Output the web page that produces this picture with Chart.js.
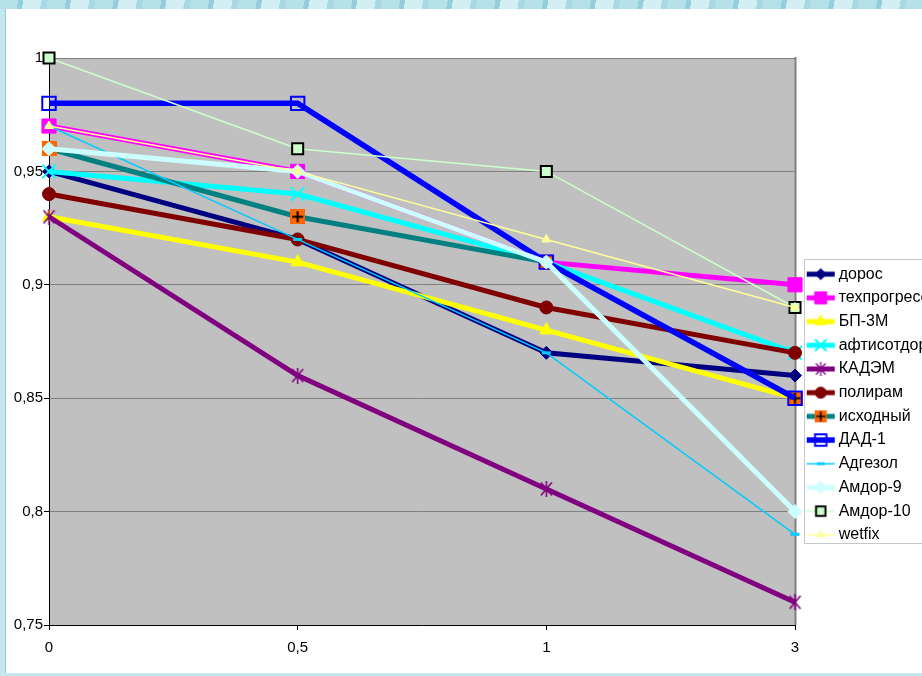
<!DOCTYPE html>
<html lang="ru">
<head>
<meta charset="utf-8">
<title>Сцепление</title>
<script src="https://cdn.jsdelivr.net/npm/chart.js@4.4.1/dist/chart.umd.min.js"></script>
<style>
  html, body { margin: 0; padding: 0; width: 922px; height: 676px; overflow: hidden; }
  body { position: relative; background: #c4e8ee; }
  .band {
    position: absolute; left: 0; top: 0; width: 922px; height: 9px;
    background: repeating-linear-gradient(100deg, #b7e1e9 0 18px, #93cfdb 18px 23px, #d3eff3 23px 41px, #a6d9e3 41px 47px);
  }
  .sheet { position: absolute; left: 5px; top: 9px; right: 0; bottom: 3px; background: #fff; border-left: 1px solid #8fcfd9; }
  #chart { position: absolute; left: 0; top: 0; }
</style>
</head>
<body>
<div class="band"></div>
<div class="sheet"></div>
<canvas id="chart" width="960" height="751"></canvas>
<script>
// ==== данные ====
const categories  = ['0', '0,5', '1', '3'];
const yTickLabels = ['0,75', '0,8', '0,85', '0,9', '0,95', '1'];

const seriesNames = ['дорос', 'техпрогресс', 'БП-3М', 'афтисотдор', 'КАДЭМ', 'полирам',
                     'исходный', 'ДАД-1', 'Адгезол', 'Амдор-9', 'Амдор-10', 'wetfix'];

const doros       = [0.95, 0.92, 0.87, 0.86];
const tehprogress = [0.97, 0.95, 0.91, 0.90];
const bp3m        = [0.93, 0.91, 0.88, 0.85];
const aftisotdor  = [0.95, 0.94, 0.91, 0.87];
const kadem       = [0.93, 0.86, 0.81, 0.76];
const poliram     = [0.94, 0.92, 0.89, 0.87];
const ishodny     = [0.96, 0.93, 0.91, 0.85];
const dad1        = [0.98, 0.98, 0.91, 0.85];
const adgezol     = [0.97, 0.92, 0.87, 0.79];
const amdor9      = [0.96, 0.95, 0.91, 0.80];
const amdor10     = [1.00, 0.96, 0.95, 0.89];
const wetfix      = [0.97, 0.95, 0.92, 0.89];

const seriesValues = [doros, tehprogress, bp3m, aftisotdor, kadem, poliram,
                      ishodny, dad1, adgezol, amdor9, amdor10, wetfix];

// ==== маркеры, которых нет в Chart.js ====
function starImg(color){
  const c = document.createElement('canvas');
  c.width = 13; c.height = 16;
  const g = c.getContext('2d');
  g.strokeStyle = color; g.lineWidth = 1.6;
  g.beginPath();
  g.moveTo(1, 1.5);  g.lineTo(12, 14.5);
  g.moveTo(12, 1.5); g.lineTo(1, 14.5);
  g.moveTo(6.5, 0);  g.lineTo(6.5, 16);
  g.stroke();
  return c;
}
function plusImg(){
  const c = document.createElement('canvas');
  c.width = 15; c.height = 15;
  const g = c.getContext('2d');
  g.fillStyle = '#FF6600'; g.fillRect(0, 0, 15, 15);
  g.strokeStyle = '#000'; g.lineWidth = 2;
  g.beginPath();
  g.moveTo(7.5, 2); g.lineTo(7.5, 13);
  g.moveTo(2, 7.5); g.lineTo(13, 7.5);
  g.stroke();
  return c;
}

// ==== стиль серий ====
const looks = [
  { color: '#000080', width: 5,   marker: 'rectRot',  r: 6.5, fill: '#000080', border: '#000080', bw: 1 },
  { color: '#FF00FF', width: 5,   marker: 'rect',     r: 10,  fill: '#FF00FF', border: '#FF00FF', bw: 1 },
  { color: '#FFFF00', width: 5,   marker: 'triangle', r: 7.5, fill: '#FFFF00', border: '#FFFF00', bw: 1 },
  { color: '#00FFFF', width: 5,   marker: 'crossRot', r: 9.5, fill: '#00FFFF', border: '#00FFFF', bw: 2 },
  { color: '#800080', width: 5,   marker: starImg('#800080'), r: 8, fill: '#800080', border: '#800080', bw: 1 },
  { color: '#800000', width: 5,   marker: 'circle',   r: 6.5, fill: '#800000', border: '#800000', bw: 1 },
  { color: '#008080', width: 5,   marker: plusImg(),  r: 8,   fill: '#FF6600', border: '#FF6600', bw: 1 },
  { color: '#0000FF', width: 5.5, marker: 'rect',     r: 9.5, fill: 'rgba(0,0,0,0)', border: '#0000FF', bw: 2 },
  { color: '#00CCFF', width: 1.5, marker: 'line',     r: 4.5, fill: '#00CCFF', border: '#00CCFF', bw: 3 },
  { color: '#CCFFFF', width: 5,   marker: 'rectRot',  r: 7,   fill: '#CCFFFF', border: '#CCFFFF', bw: 1 },
  { color: '#CCFFCC', width: 1.5, marker: 'rect',     r: 7.8, fill: '#CCFFCC', border: '#000000', bw: 2 },
  { color: '#FFFF99', width: 1.5, marker: 'triangle', r: 5,   fill: '#FFFF99', border: '#FFFF99', bw: 1 }
];

// значок легенды: линия + маркер
function swatch(lk){
  const c = document.createElement('canvas');
  c.width = 40; c.height = 18;
  const g = c.getContext('2d');
  g.strokeStyle = lk.color; g.lineWidth = lk.width;
  g.beginPath(); g.moveTo(10, 9); g.lineTo(38, 9); g.stroke();
  if (typeof lk.marker === 'object') {
    const w = lk.marker.width * 0.85, h = lk.marker.height * 0.85;
    g.drawImage(lk.marker, 24 - w/2, 9 - h/2, w, h);
  } else {
    g.fillStyle = lk.fill; g.strokeStyle = lk.border; g.lineWidth = lk.bw;
    Chart.helpers.drawPoint(g, { pointStyle: lk.marker, radius: lk.r * 0.85, borderWidth: lk.bw, rotation: 0 }, 24, 9);
  }
  return c;
}

const LEG_PAD = 7.7, LEG_FONT = 16;

const datasets = seriesNames.map((name, i) => {
  const lk = looks[i];
  return {
    label: name,
    data: seriesValues[i],
    order: seriesNames.length - i,   // как в Excel: последняя серия сверху
    borderColor: lk.color,
    borderWidth: lk.width,
    tension: 0,
    fill: false,
    clip: false,
    pointStyle: lk.marker,
    pointRadius: lk.r,
    pointBackgroundColor: lk.fill,
    pointBorderColor: lk.border,
    pointBorderWidth: lk.bw
  };
});

const plotFrame = {
  id: 'plotFrame',
  beforeDraw(chart){
    const { ctx, chartArea: a } = chart;
    ctx.save();
    ctx.fillStyle = '#C0C0C0';
    ctx.fillRect(a.left, a.top, a.right - a.left, a.bottom - a.top);
    ctx.restore();
  },
  beforeDatasetsDraw(chart){
    const { ctx, chartArea: a } = chart;
    ctx.save();
    ctx.strokeStyle = '#808080'; ctx.lineWidth = 2;
    ctx.beginPath();
    ctx.moveTo(a.right + 0.5, a.top - 1); ctx.lineTo(a.right + 0.5, a.bottom);
    ctx.stroke();
    ctx.restore();
  },
  afterDraw(chart){
    const L = chart.legend, ctx = chart.ctx;
    const n = seriesNames.length, step = LEG_FONT + LEG_PAD;
    const y0 = (L.top + LEG_PAD + L.bottom - n * step) / 2;
    const left = Math.round(L.left + 9) + 0.5;
    const top = Math.round(y0 + LEG_FONT / 2 - 15) + 0.5;
    const bottom = Math.round(y0 + (n - 1) * step + LEG_FONT / 2 + 8.5) + 0.5;
    ctx.save();
    ctx.strokeStyle = '#c8c8c8'; ctx.lineWidth = 1;
    ctx.strokeRect(left, top, 200, bottom - top);
    ctx.restore();
  }
};

Chart.defaults.font.family = "'Liberation Sans', Arial, sans-serif";
Chart.defaults.font.size = 15;
Chart.defaults.color = '#000';

new Chart(document.getElementById('chart'), {
  type: 'line',
  data: { labels: categories, datasets },
  options: {
    responsive: false,
    animation: false,
    events: [],
    layout: { padding: { left: 0, top: 58, right: 25, bottom: 0 } },
    plugins: {
      tooltip: { enabled: false },
      legend: {
        position: 'right',
        maxWidth: 140,
        labels: {
          usePointStyle: true,
          pointStyleWidth: 28,
          padding: LEG_PAD,
          color: '#000',
          font: { size: LEG_FONT },
          generateLabels: () => seriesNames.map((name, i) => ({
            text: name,
            pointStyle: swatch(looks[i]),
            datasetIndex: i,
            hidden: false,
            lineWidth: 0,
            fillStyle: 'rgba(0,0,0,0)',
            strokeStyle: 'rgba(0,0,0,0)'
          }))
        }
      }
    },
    scales: {
      x: {
        offset: false,
        grid: { drawOnChartArea: false, tickColor: '#000', tickLength: 5 },
        border: { color: '#000', width: 1 },
        ticks: { padding: 9, maxRotation: 0, font: { size: 15 } },
        afterFit(s){ s.height = 126; }
      },
      y: {
        min: 0.75,
        max: 1,
        ticks: { stepSize: 0.05, padding: 1, font: { size: 15 },
                 callback: (v, i) => yTickLabels[i] },
        grid: { color: '#808080', tickColor: '#000', tickLength: 5 },
        border: { color: '#000', width: 1 },
        afterFit(s){ s.width = 49; }
      }
    }
  },
  plugins: [plotFrame]
});
</script>
</body>
</html>
